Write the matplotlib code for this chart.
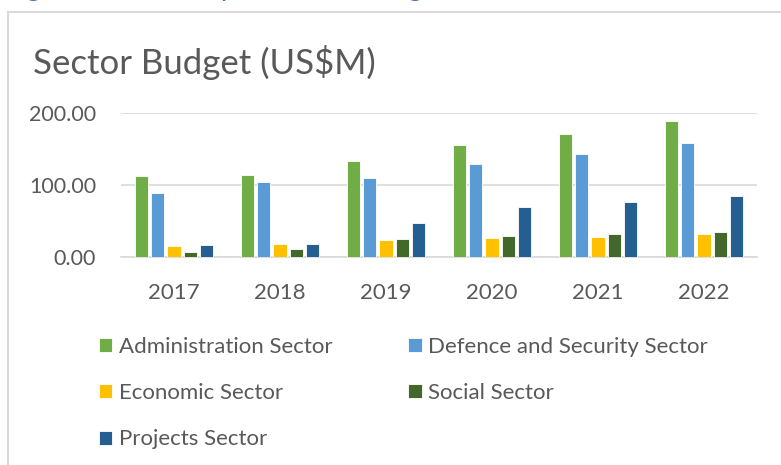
import matplotlib.pyplot as plt
import numpy as np
from matplotlib.patches import Rectangle
from matplotlib.ticker import FuncFormatter

plt.rcParams["font.family"] = ["Lato", "DejaVu Sans"]

years = ["2017", "2018", "2019", "2020", "2021", "2022"]
sectors = [
    "Administration Sector",
    "Defence and Security Sector",
    "Economic Sector",
    "Social Sector",
    "Projects Sector",
]
administration = [113.0, 113.5, 133.5, 154.9, 170.7, 188.4]
defence = [88.8, 103.7, 109.8, 129.8, 143.3, 157.7]
economic = [15.3, 18.1, 23.7, 26.0, 28.4, 31.6]
social = [6.5, 11.2, 25.6, 28.8, 32.1, 34.9]
projects = [16.7, 17.7, 47.4, 69.8, 76.7, 84.2]
series = [administration, defence, economic, social, projects]
colors = ["#70AD47", "#5B9BD5", "#FFC000", "#43682B", "#255E91"]

GRAY = "#595959"
W, H = 781, 465

fig = plt.figure(figsize=(W / 100, H / 100), dpi=100)

# chart frame and the caption line above it (its top runs off the page)
fig.patches.append(Rectangle((8 / W, -0.1), 1.2, 1.1 - 12 / H, transform=fig.transFigure,
                             fill=False, edgecolor="#D9D9D9", linewidth=1.5))
fig.text(4 / W, 1 + 4 / H, "Figure 5: Summary of Sector Budget Allocations (2017 - 2022)",
         color="#4472C4", fontsize=20, va="baseline", ha="left")

fig.text(33 / W, 1 - 62 / H, "Sector Budget (US$M)", color=GRAY, fontsize=25, va="center")

ax = fig.add_axes([121 / W, 1 - 257 / H, (757 - 121) / W, (257 - 113) / H])
x = np.arange(len(years))
step = 0.153
width = 0.125
handles = []
for i, (vals, c, name) in enumerate(zip(series, colors, sectors)):
    b = ax.bar(x + (i - 2) * step, vals, width, color=c, edgecolor="white",
               linewidth=0.6, label=name, zorder=3)
    handles.append(b)

ax.set_xlim(-0.5, len(years) - 0.5)
ax.set_ylim(0, 200)
ax.set_yticks([0, 100, 200])
ax.yaxis.set_major_formatter(FuncFormatter(lambda v, _: f"{v:.2f}"))
ax.set_xticks(x)
ax.set_xticklabels(years)
ax.grid(axis="y", color="#D9D9D9", linewidth=1.2, zorder=0)
for s in ["top", "right", "left"]:
    ax.spines[s].set_visible(False)
ax.spines["bottom"].set_color("#D9D9D9")
ax.spines["bottom"].set_linewidth(1.2)
ax.tick_params(length=0, colors=GRAY)
ax.tick_params(axis="y", pad=18, labelsize=15.5)
ax.tick_params(axis="x", pad=19, labelsize=16)

# legend fills row by row: reorder for column-major layout
order = [0, 2, 4, 1, 3]
fig.legend([handles[k] for k in order], [sectors[k] for k in order],
           loc="upper left", bbox_to_anchor=(99 / W, 1 - 337 / H), ncol=2,
           frameon=False, fontsize=16, labelcolor=GRAY, handlelength=0.59,
           handleheight=0.59, handletextpad=0.3, labelspacing=1.18,
           columnspacing=3.42, borderpad=0, borderaxespad=0)

fig.savefig("out.png", dpi=100)
